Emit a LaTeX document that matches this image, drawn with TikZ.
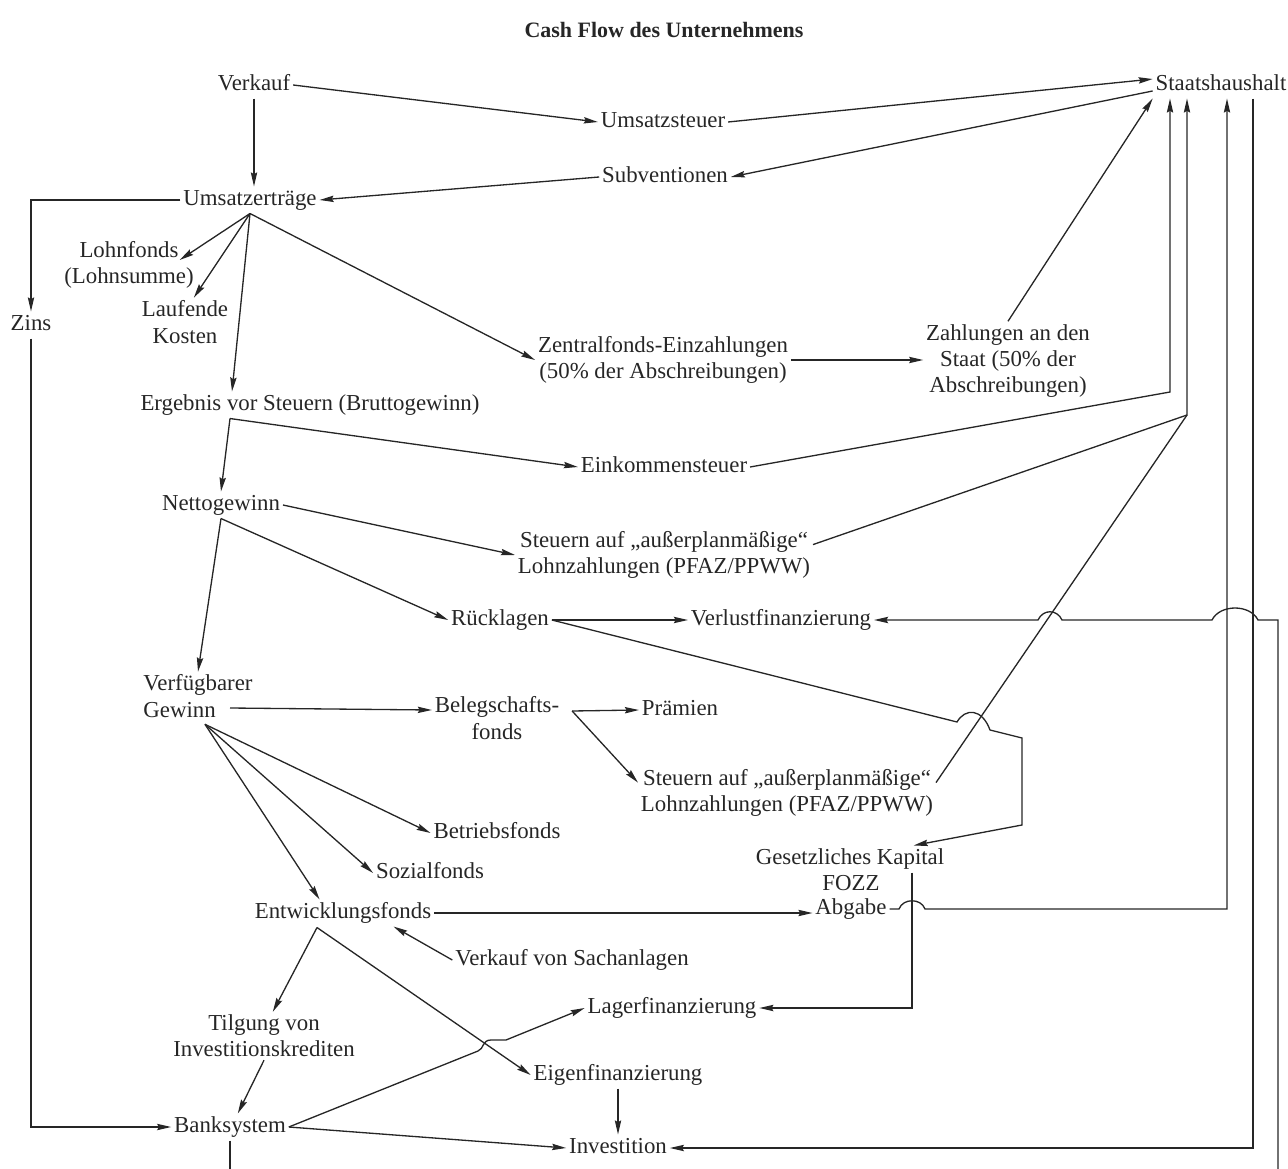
\documentclass[tikz,border=0pt]{standalone}
\usepackage{fontspec}
\setmainfont{Liberation Serif}
\usepackage{tikz}
\usetikzlibrary{arrows.meta, calc}

\begin{document}
\begin{tikzpicture}[x=0.02cm, y=-0.02cm, color=black!85,
  every node/.style={font=\fontsize{13}{15}\selectfont, inner sep=1.5pt},
  lbl/.style={text height=9pt, text depth=3pt},
  mlbl/.style={align=center},
  conn/.style={line width=0.75pt},
  arr/.style={conn, ->, >={Stealth[length=8pt,width=3.6pt,inset=1pt]}}]
\useasboundingbox (0,0) rectangle (1288,1169);

% --- Title ---
\node[font=\bfseries\fontsize{12.5}{15}\selectfont] (title) at (664,30) {Cash Flow des Unternehmens};

% --- Nodes ---
\node[lbl] (verkauf) at (254,85) {Verkauf};
\node[lbl] (ust) at (663,122) {Umsatzsteuer};
\node[lbl] (staat) at (1221,85) {Staatshaushalt};
\node[lbl] (subv) at (665,177) {Subventionen};
\node[lbl] (umsatz) at (250,200) {Umsatzerträge};
\node[lbl] (zins) at (31,325) {Zins};
\node[mlbl] (lohn) at (129,265) {Lohnfonds\\(Lohnsumme)};
\node[mlbl] (laufend) at (185,322) {Laufende\\Kosten};
\node[mlbl] (zentral) at (663,360) {Zentralfonds-Einzahlungen\\(50\% der Abschreibungen)};
\node[mlbl] (zahlung) at (1008,361) {Zahlungen an den\\Staat (50\% der\\Abschreibungen)};
\node[lbl] (ergebnis) at (310,405) {Ergebnis vor Steuern (Bruttogewinn)};
\node[lbl] (einkommen) at (664,467) {Einkommensteuer};
\node[lbl] (netto) at (221,505) {Nettogewinn};
\node[mlbl] (steuer1) at (664,555) {Steuern auf „außerplanmäßige“\\Lohnzahlungen (PFAZ/PPWW)};
\node[lbl] (ruecklage) at (500,620) {Rücklagen};
\node[lbl] (verlust) at (781,620) {Verlustfinanzierung};
\node[mlbl, align=left] (verfueg) at (198,696) {Verfügbarer\\Gewinn};
\node[mlbl] (beleg) at (497,718) {Belegschafts-\\fonds};
\node[lbl] (praemie) at (680,710) {Prämien};
\node[mlbl] (steuer2) at (787,793) {Steuern auf „außerplanmäßige“\\Lohnzahlungen (PFAZ/PPWW)};
\node[lbl] (betrieb) at (497,833) {Betriebsfonds};
\node[lbl] (sozial) at (430,873) {Sozialfonds};
\node[lbl] (gesetz) at (850,859) {Gesetzliches Kapital};
\node[lbl] (fozz) at (851,885) {FOZZ};
\node[lbl] (abgabe) at (851,909) {Abgabe};
\node[lbl] (entw) at (343,913) {Entwicklungsfonds};
\node[lbl] (sach) at (572,960) {Verkauf von Sachanlagen};
\node[lbl] (lager) at (672,1008) {Lagerfinanzierung};
\node[mlbl] (tilgung) at (264,1036) {Tilgung von\\Investitionskrediten};
\node[lbl] (eigen) at (618,1075) {Eigenfinanzierung};
\node[lbl] (bank) at (230,1127) {Banksystem};
\node[lbl] (invest) at (618,1148) {Investition};

% --- Branch points and corners ---
\coordinate (u0) at (umsatz.south);
\coordinate (e0) at ([shift={(-80,0)}]ergebnis.south);
\coordinate (v0) at ([shift={(7,4)}]verfueg.south);
\coordinate (b0) at ([shift={(10,-7)}]beleg.east);
\coordinate (f0) at ([shift={(-26,1)}]entw.south);
\coordinate (t1) at (1170,392);
\coordinate (t2) at (1187,415);
\coordinate (t3) at (1227,909);
\coordinate (t4) at (1253,1148);
\coordinate (t5) at (1278,1169);
\coordinate (k1) at (912,1008);

% --- Sales and state budget ---
\draw[arr] (verkauf.east) -- (ust.west);
\draw[arr] (verkauf.south) -- (verkauf.south |- umsatz.north);
\draw[arr] (ust.east) -- (staat.175);
\draw[arr] (staat.185) -- (subv.east);
\draw[arr] (subv.west) -- (umsatz.east);
\draw[arr] (umsatz.west) -| (zins.north);
\draw[arr] (zins.south) |- (bank.west);

% --- Revenue split ---
\draw[arr] (u0) -- ([shift={(-17,-5)}]lohn.east);
\draw[arr] (u0) -- (laufend.70);
\draw[arr] (u0) -- ([shift={(-78,0)}]ergebnis.north);
\draw[arr] (u0) -- (zentral.west);
\draw[arr] (zentral.east) -- (zentral.east -| zahlung.west);
\draw[arr] (zahlung.north) -- (staat.south west);

% --- Taxes ---
\draw[arr] (e0) -- (einkommen.west);
\draw[arr] (e0) -- (netto.north);
\draw[arr] (einkommen.east) -- (t1) -- (t1 |- staat.south);
\draw[arr] (netto.east) -- (steuer1.west);
\draw[arr] (steuer1.4) -- (t2) -- (t2 |- staat.south);
\draw[conn] (steuer2.4) -- (t2);

% --- Net profit ---
\draw[arr] (netto.south) -- (ruecklage.west);
\draw[arr] (netto.south) -- (verfueg.north);
\draw[arr] (ruecklage.east) -- (verlust.west);
\draw[arr] (ruecklage.east) -- (957,722) .. controls (965,708) and (982,708) .. (990,730)
  -- (1022,738) -- (1022,825) -- (gesetz.12);
\draw[arr] ([shift={(32,12)}]verfueg.center) -- ([shift={(0,-8)}]beleg.west);
\draw[arr] (b0) -- (praemie.west);
\draw[arr] (b0) -- (steuer2.176);
\draw[arr] (v0) -- (betrieb.west);
\draw[arr] (v0) -- (sozial.west);
\draw[arr] (v0) -- (entw.150);

% --- Development fund ---
\draw[arr] (entw.east) -- (entw.east -| abgabe.west);
\draw[arr] (sach.west) -- (entw.-15);
\draw[arr] (f0) -- (tilgung.70);
\draw[arr] (f0) -- (eigen.west);
\draw[arr] (tilgung.south) -- (bank.60);
\draw[arr] (abgabe.east) -- (899,909) .. controls (903,898) and (921,898) .. (925,909)
  -- (t3) -- (t3 |- staat.south);
\draw[arr] (gesetz.south -| k1) -- (k1) -- (lager.east);

% --- Banks and investment ---
\draw[arr] (bank.east) -- (478,1051) .. controls (484,1049) and (482,1040) .. (491,1040)
  -- (506,1040) -- (lager.west);
\draw[arr] (bank.east) -- (invest.west);
\draw[arr] (eigen.south) -- (invest.north);
\draw[conn] (bank.south) -- (bank.south |- t5);
\draw[arr] (t4 |- staat.south) -- (t4) -- (invest.east);
\draw[arr] (t5) -- (1278,620) -- (1258,620) .. controls (1250,604) and (1220,604) .. (1212,620)
  -- (1062,620) .. controls (1057,609) and (1043,609) .. (1038,620) -- (verlust.east);
\end{tikzpicture}
\end{document}
